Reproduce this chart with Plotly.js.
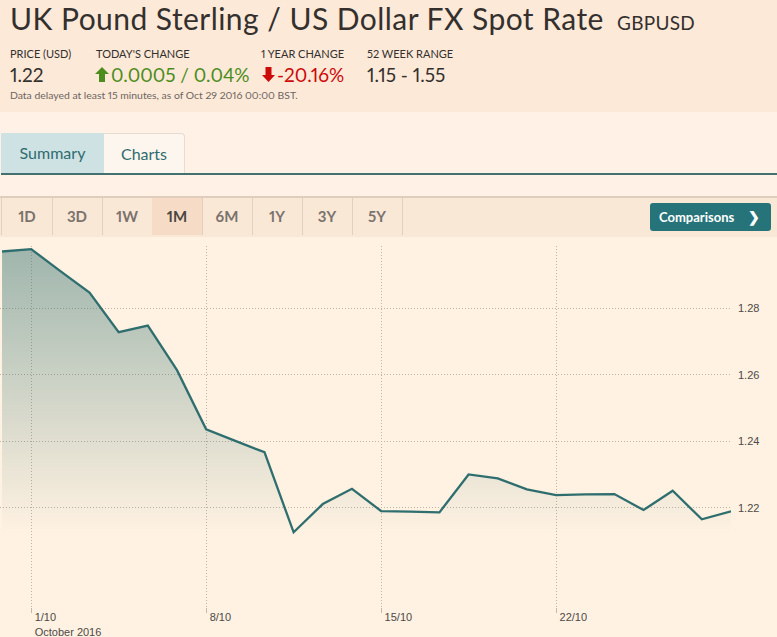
<!DOCTYPE html>
<html><head><meta charset="utf-8">
<script src="https://cdn.plot.ly/plotly-3.0.1.min.js"></script>
<style>
body{margin:0;width:777px;height:637px;overflow:hidden;background:#fff1e5;font-family:Lato,'Open Sans',sans-serif;position:relative;font-feature-settings:"pnum" 1;font-variant-numeric:proportional-nums}
.a{position:absolute;white-space:nowrap;line-height:1}
#hdr{left:0;top:0;width:777px;height:112px;background:#fde9d8}
.lbl{font-size:11px;color:#33302e;top:47.5px}
.val{font-size:19px;color:#33302e;top:64.8px}
.tab{top:133px;height:40px;font-size:16px;color:#2e6c70;display:flex;align-items:center;justify-content:center}
.btn{top:198px;height:37px;width:50px;border-right:1px solid #e2d0bf;font-size:15px;font-weight:700;color:#7a736d;display:flex;align-items:center;justify-content:center}
#chart{position:absolute;left:0;top:237px;width:777px;height:400px}
</style></head>
<body>
<div class="a" id="hdr"></div>
<div class="a" style="left:10px;top:3.4px;font-size:30px;letter-spacing:0.45px;color:#33302e">UK Pound Sterling / US Dollar FX Spot Rate</div>
<div class="a" style="left:617px;top:12.5px;font-size:19px;letter-spacing:0.3px;color:#33302e">GBPUSD</div>
<div class="a lbl" style="left:10px">PRICE (USD)</div>
<div class="a lbl" style="left:96px">TODAY'S CHANGE</div>
<div class="a lbl" style="left:261px">1 YEAR CHANGE</div>
<div class="a lbl" style="left:367px">52 WEEK RANGE</div>
<div class="a val" style="left:10px">1.22</div>
<svg class="a" style="left:95px;top:67px" width="14" height="15" viewBox="0 0 14 15"><polygon points="7,0 14,7 10,7 10,15 4,15 4,7 0,7" fill="#4c8d1c"/></svg>
<div class="a val" style="left:111px;color:#4c8d1c">0.0005 / 0.04%</div>
<svg class="a" style="left:262px;top:67px" width="13" height="15" viewBox="0 0 13 15"><polygon points="6.5,15 13,8 9.5,8 9.5,0 3.5,0 3.5,8 0,8" fill="#cc0a0a"/></svg>
<div class="a val" style="left:277px;color:#cc0a0a">-20.16%</div>
<div class="a val" style="left:367px">1.15 - 1.55</div>
<div class="a" style="left:10px;top:90px;font-size:10.4px;color:#6b6560">Data delayed at least 15 minutes, as of Oct 29 2016 00:00 BST.</div>

<div class="a tab" style="left:1px;width:103px;background:#cfe2e3">Summary</div>
<div class="a tab" style="left:104px;width:80px;background:#fdf6ee;border:1px solid #e5dcd2;border-bottom:none;border-left:none;border-top-right-radius:4px">Charts</div>
<div class="a" style="left:1px;top:173px;width:776px;height:2px;background:#44706f"></div>

<div class="a" style="left:0;top:196px;width:777px;height:39px;background:#fae8d7;border-top:2px solid #e0cdbb;border-bottom:2px solid #e0cdbb"></div>
<div class="a btn" style="left:1px;border-left:1px solid #e2d0bf">1D</div>
<div class="a btn" style="left:52px">3D</div>
<div class="a btn" style="left:102px">1W</div>
<div class="a btn" style="left:152px;background:#f6dcc6;color:#4a4541">1M</div>
<div class="a btn" style="left:202px">6M</div>
<div class="a btn" style="left:252px">1Y</div>
<div class="a btn" style="left:302px">3Y</div>
<div class="a btn" style="left:352px">5Y</div>
<div class="a" style="left:650px;top:203px;width:121px;height:28px;background:#26747a;border-radius:3px;color:#fff;font-weight:700;font-size:13px;display:flex;align-items:center"><span style="margin-left:9px">Comparisons</span><span style="margin-left:14px;font-size:14px">&#10095;</span></div>

<div id="chart"></div>
<script>
const dates = ['30/9','1/10','3/10','4/10','5/10','6/10','7/10','8/10','10/10','11/10','12/10','13/10','14/10','15/10','17/10','18/10','19/10','20/10','21/10','22/10','24/10','25/10','26/10','27/10','28/10','29/10'];
const rates = [1.2971,1.2978,1.2912,1.2847,1.2728,1.2748,1.2614,1.2436,1.2401,1.2367,1.2126,1.2211,1.2257,1.2190,1.2188,1.2186,1.2300,1.2288,1.2255,1.2238,1.2240,1.2241,1.2193,1.2251,1.2165,1.2189];
const xTickVals = ['1/10','8/10','15/10','22/10'];
const xTickText = ['1/10<br>October 2016','8/10','15/10','22/10'];
const yTickVals = [1.22,1.24,1.26,1.28];

const grid = '#bfb2a5';
Plotly.newPlot('chart', [{
  type:'scatter', mode:'lines', x:dates, y:rates,
  line:{color:'#2f6e6e', width:2.3},
  fill:'tozeroy',
  fillgradient:{type:'vertical', start:1.212, stop:1.298,
    colorscale:[[0,'rgba(47,110,110,0)'],[1,'rgba(47,110,110,0.46)']]},
  hoverinfo:'none', showlegend:false
}], {
  width:777, height:400,
  margin:{l:0, r:46, t:9, b:30},
  paper_bgcolor:'#fff2e2', plot_bgcolor:'#fff2e2',
  xaxis:{type:'category', range:[-0.07,25], tickvals:xTickVals, ticktext:xTickText,
    showgrid:true, gridcolor:grid, griddash:'1px,2px', gridwidth:1,
    ticks:'outside', ticklen:5, tickcolor:'#c6b9ac', ticklabelposition:'outside right', ticklabelshift:3,
    tickfont:{family:'Liberation Sans, Arial, sans-serif', size:11, color:'#4d4946'},
    showline:false, zeroline:false, fixedrange:true},
  yaxis:{side:'right', range:[1.19012,1.29875], tickvals:yTickVals, tickformat:'.2f',
    showgrid:true, gridcolor:grid, griddash:'1px,2px', gridwidth:1,
    ticks:'', ticklabelstandoff:6,
    tickfont:{family:'Liberation Sans, Arial, sans-serif', size:11, color:'#4d4946'},
    showline:false, zeroline:false, fixedrange:true}
}, {staticPlot:true, displayModeBar:false});
</script>
</body></html>
